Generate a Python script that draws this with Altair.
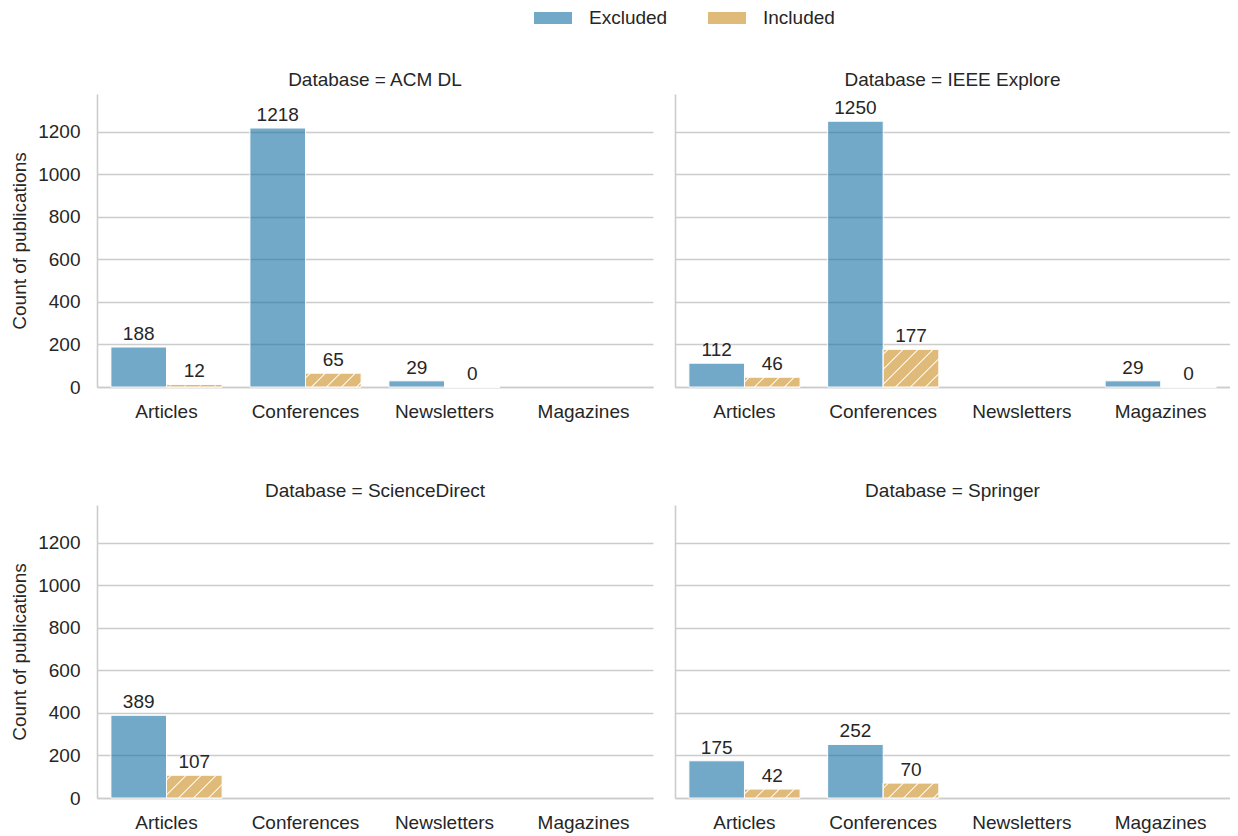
import altair as alt
import pandas as pd

# ---- data ----
databases = ["ACM DL", "IEEE Explore", "ScienceDirect", "Springer"]
pub_types = ["Articles", "Conferences", "Newsletters", "Magazines"]
statuses = ["Excluded", "Included"]

row_db = ["ACM DL"] * 6 + ["IEEE Explore"] * 6 + ["ScienceDirect"] * 2 + ["Springer"] * 4
row_type = (["Articles", "Articles", "Conferences", "Conferences", "Newsletters", "Newsletters"]
            + ["Articles", "Articles", "Conferences", "Conferences", "Magazines", "Magazines"]
            + ["Articles", "Articles"]
            + ["Articles", "Articles", "Conferences", "Conferences"])
row_status = ["Excluded", "Included"] * 9
row_count = [188, 12, 1218, 65, 29, 0,
             112, 46, 1250, 177, 29, 0,
             389, 107,
             175, 42, 252, 70]

df = pd.DataFrame({"Database": row_db, "Type": row_type,
                   "Status": row_status, "Count": row_count})

# ---- layout / style ----
WL, WR, H = 556, 555, 293
YMAX = 1378
FS = 19
FONT = "Liberation Sans"
TXT = "#262626"
GRID = "#cccccc"
BLUE_BASE = "#146ea3"
ORANGE_BASE = "#cb8c1e"
ORANGE_SOLID = "#e0ba78"
STRIPE = "#f6e9d2"

PX = H / YMAX            # pixels per unit
BW = WL / 4 * 0.4        # bar width in pixels
PERIOD = 15.0
PHASE = 5.0
HALF = 0.8

stops = []
for i in range(9):
    c = PHASE + i * PERIOD
    a, b = c - HALF, c + HALF
    stops.append("{offset: clamp(%.3f/datum.L, 0, 1), color: '%s'}" % (a, ORANGE_SOLID))
    stops.append("{offset: clamp(%.3f/datum.L, 0, 1), color: '%s'}" % (a, STRIPE))
    stops.append("{offset: clamp(%.3f/datum.L, 0, 1), color: '%s'}" % (b, STRIPE))
    stops.append("{offset: clamp(%.3f/datum.L, 0, 1), color: '%s'}" % (b, ORANGE_SOLID))
hatch_expr = ("{gradient: 'linear', x1: 0, y1: 0, x2: datum.s, y2: datum.s * datum.r, stops: ["
              + "{offset: 0, color: '%s'}," % ORANGE_SOLID + ",".join(stops)
              + ", {offset: 1, color: '%s'}]}" % ORANGE_SOLID)

YTICKS = [0, 200, 400, 600, 800, 1000, 1200]


def panel(name, left, width):
    base = alt.Chart(df).transform_filter(alt.datum.Database == name)
    x = alt.X("Type:N", sort=pub_types,
              scale=alt.Scale(domain=pub_types, paddingInner=0.2, paddingOuter=0.1),
              axis=alt.Axis(title=None, labelAngle=0, ticks=False, labelPadding=15,
                            labelFontSize=FS, labelColor=TXT, labelFont=FONT,
                            domainColor=GRID, domainWidth=1.6, grid=False))
    xo = alt.XOffset("Status:N", scale=alt.Scale(domain=statuses, paddingInner=0, paddingOuter=0))
    if left:
        yaxis = alt.Axis(title="Count of publications", titleFontSize=FS, titleFont=FONT,
                         titleFontWeight="normal", titleColor=TXT, titlePadding=8,
                         labelFontSize=FS, labelFont=FONT, labelColor=TXT, labelPadding=17,
                         ticks=False, values=YTICKS, format="d",
                         domainColor=GRID, domainWidth=1.6, gridColor=GRID, gridWidth=1.3)
    else:
        yaxis = alt.Axis(title=None, labels=False, ticks=False, values=YTICKS,
                         domainColor=GRID, domainWidth=1.6, gridColor=GRID, gridWidth=1.3)
    y = alt.Y("Count:Q", scale=alt.Scale(domain=[0, YMAX], nice=False), axis=yaxis)

    bars = base.mark_bar(fillOpacity=0.6, stroke="white", strokeWidth=1).encode(
        x=x, xOffset=xo, y=y,
        color=alt.Color("Status:N",
                        scale=alt.Scale(domain=statuses, range=[BLUE_BASE, ORANGE_BASE]),
                        legend=alt.Legend(title=None, orient="none", direction="horizontal",
                                          legendX=437, legendY=-95,
                                          symbolType="M-1,-0.32L1,-0.32L1,0.32L-1,0.32Z",
                                          symbolSize=1444, symbolStrokeWidth=0,
                                          symbolOpacity=0.6,
                                          labelFontSize=FS, labelFont=FONT, labelColor=TXT,
                                          labelOffset=17, columnPadding=40, padding=0)))
    hatch = (base.transform_filter(alt.datum.Status == "Included")
             .transform_calculate(hpx="datum.Count * %.6f" % PX)
             .transform_calculate(L="%.4f + datum.hpx" % BW)
             .transform_calculate(r="datum.hpx / %.4f" % BW)
             .transform_calculate(s="(1 + datum.r) / (1 + datum.r * datum.r)")
             .transform_calculate(hatch=hatch_expr)
             .mark_bar(stroke="white", strokeWidth=1)
             .encode(x=x, xOffset=xo, y=y, fill=alt.Fill("hatch:N", scale=None)))
    labels = base.mark_text(baseline="bottom", dy=-3, fontSize=FS, font=FONT, color=TXT).encode(
        x=x, xOffset=xo, y=y, text="Count:Q")
    return alt.layer(bars, hatch, labels).properties(
        width=width, height=H,
        title=alt.TitleParams("Database = " + name, fontSize=FS, font=FONT, color=TXT,
                              fontWeight="normal", offset=4, anchor="middle"))


row1 = alt.hconcat(panel(databases[0], True, WL), panel(databases[1], False, WR), spacing=22)
row2 = alt.hconcat(panel(databases[2], True, WL), panel(databases[3], False, WR), spacing=22)
chart = (alt.vconcat(row1, row2, spacing=61)
         .properties(padding={"left": 2, "top": -9, "right": 0, "bottom": 2})
         .configure_view(stroke=None))

chart.save("out.html", embed_options={"renderer": "svg", "actions": False})
